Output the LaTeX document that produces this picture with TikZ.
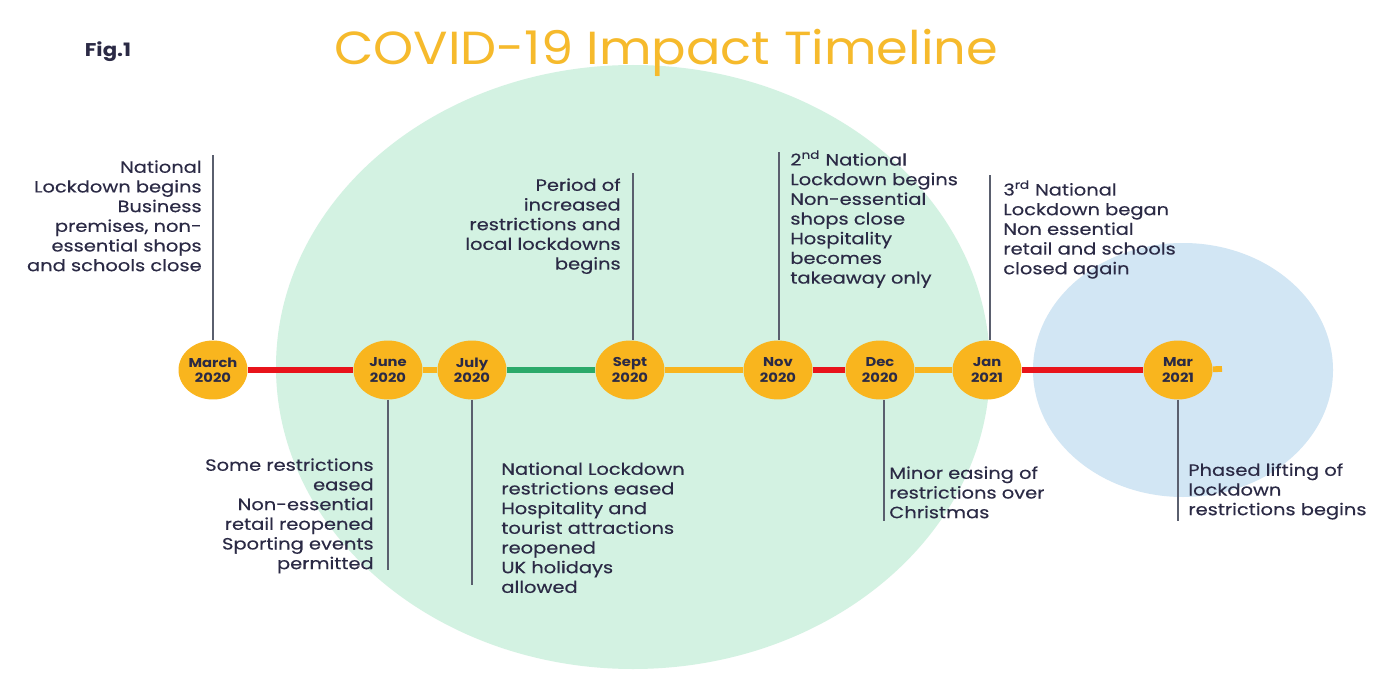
\documentclass[tikz,border=0pt]{standalone}
\usepackage{fontspec}
\setmainfont{Poppins}
\newfontfamily\notefont{Poppins}[FakeStretch=1.19,FakeBold=0.3]
\newfontfamily\titlefont{Poppins}[FakeStretch=1.1]
\newfontfamily\figfont{Poppins}[FakeStretch=1.15]
\usepackage{xcolor}
\usetikzlibrary{shapes.geometric}

\definecolor{mint}{HTML}{D3F2E2}
\definecolor{sky}{HTML}{D2E6F4}
\definecolor{amber}{HTML}{F9B51E}
\definecolor{gold}{HTML}{F6BA2C}
\definecolor{redline}{HTML}{E8141B}
\definecolor{greenline}{HTML}{2BAA6A}
\definecolor{ink}{HTML}{2B2A45}
\definecolor{stem}{HTML}{5A5F6E}

\tikzset{
  month/.style={ellipse, fill=amber, minimum width=1.38cm, minimum height=1.18cm,
    inner sep=0pt, align=center, text=ink, font=\figfont\bfseries\fontsize{7.3}{8.8}\selectfont},
  note/.style={inner sep=0pt, text=ink, font=\notefont\fontsize{9.3}{11.2}\selectfont},
  seg/.style={line width=3.3pt},
  pin/.style={color=stem, line width=0.7pt}
}

\begin{document}
\begin{tikzpicture}[x=0.02cm, y=-0.02cm]
		\useasboundingbox (0,0) rectangle (1376,679);
		\fill[color=white] (0,0) rectangle (1376,679);
		% background circles
		\fill[color=mint] (633,367) ellipse [x radius=357, y radius=-302];
		\fill[color=sky] (1183,370) ellipse [x radius=150, y radius=-127];
		% headings
		\node[text=ink, font=\figfont\bfseries\fontsize{10.5}{13}\selectfont] (fig) at (108,52) {Fig.1};
		\node[text=gold, font=\titlefont\fontsize{26.4}{30}\selectfont] (title) at (666,53) {COVID-19 Impact Timeline};
		% months
		\node[month] (mar20) at (213,370) {March\\2020};
		\node[month] (jun20) at (388,370) {June\\2020};
		\node[month] (jul20) at (472,370) {July\\2020};
		\node[month] (sep20) at (630,370) {Sept\\2020};
		\node[month] (nov20) at (778,370) {Nov\\2020};
		\node[month] (dec20) at (880,370) {Dec\\2020};
		\node[month] (jan21) at (987,370) {Jan\\2021};
		\node[month] (mar21) at (1178,370) {Mar\\2021};
		\coordinate (end) at (1222,369);
		% timeline
		\draw[seg, color=redline] (mar20) -- (jun20);
		\draw[seg, color=amber] (jun20) -- (jul20);
		\draw[seg, color=greenline] (jul20) -- (sep20);
		\draw[seg, color=amber] (sep20) -- (nov20);
		\draw[seg, color=redline] (nov20) -- (dec20);
		\draw[seg, color=amber] (dec20) -- (jan21);
		\draw[seg, color=redline] (jan21) -- (mar21);
		\draw[seg, color=amber] (mar21) -- (end);
		% notes above
		\node[note, anchor=north east, align=right] (t1) at (202,160)
			{National\\Lockdown begins\\Business\\premises, non-\\essential shops\\and schools close};
		\node[note, anchor=north east, align=right] (t4) at (621,178)
			{Period of\\increased\\restrictions and\\local lockdowns\\begins};
		\node[note, anchor=north west, align=left] (t5) at (790,150)
			{2\textsuperscript{nd} National\\Lockdown begins\\Non-essential\\shops close\\Hospitality\\becomes\\takeaway only};
		\node[note, anchor=north west, align=left] (t7) at (1003,180)
			{3\textsuperscript{rd} National\\Lockdown began\\Non essential\\retail and schools\\closed again};
		% notes below
		\node[note, anchor=north east, align=right] (t2) at (374,458)
			{Some restrictions\\eased\\Non-essential\\retail reopened\\Sporting events\\permitted};
		\node[note, anchor=north west, align=left] (t3) at (501,462)
			{National Lockdown\\restrictions eased\\Hospitality and\\tourist attractions\\reopened\\UK holidays\\allowed};
		\node[note, anchor=north west, align=left] (t6) at (889,466)
			{Minor easing of\\restrictions over\\Christmas};
		\node[note, anchor=north west, align=left] (t8) at (1188,463)
			{Phased lifting of\\lockdown\\restrictions begins};
		% pins
		\coordinate (p1) at (213,155);
		\coordinate (p4) at (633,173);
		\coordinate (p5) at (779,152);
		\coordinate (p7) at (990,175);
		\coordinate (p2) at (388,570);
		\coordinate (p3) at (472,585);
		\coordinate (p6) at (884,521);
		\coordinate (p8) at (1178,521);
		\draw[pin] (p1) -- (mar20.north);
		\draw[pin] (p4) -- (p4 |- sep20.north);
		\draw[pin] (p5) -- (p5 |- nov20.north);
		\draw[pin] (p7) -- (p7 |- jan21.north);
		\draw[pin] (jun20.south) -- (p2);
		\draw[pin] (jul20.south) -- (p3);
		\draw[pin] (p6 |- dec20.south) -- (p6);
		\draw[pin] (mar21.south) -- (p8);
	\end{tikzpicture}
\end{document}
